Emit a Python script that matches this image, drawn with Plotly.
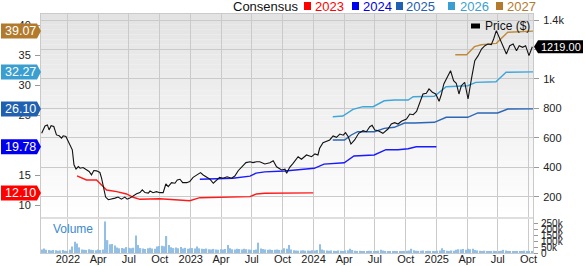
import plotly.graph_objects as go
import pandas as pd

# ---------------- data ----------------
price_dates = ["2021-10-15","2021-10-25","2021-11-01","2021-11-06","2021-11-12","2021-11-20","2021-11-28",
 "2021-12-06","2021-12-13","2021-12-18","2021-12-26","2022-01-02","2022-01-09","2022-01-14","2022-01-19",
 "2022-01-25","2022-02-01","2022-02-06","2022-02-15","2022-02-26","2022-03-05","2022-03-12","2022-03-19",
 "2022-03-27","2022-04-06","2022-04-11","2022-04-16","2022-04-23","2022-05-01","2022-05-11","2022-05-21",
 "2022-05-30","2022-06-09","2022-06-19","2022-06-26","2022-07-04","2022-07-14","2022-07-24","2022-08-03",
 "2022-08-10","2022-08-18","2022-08-28","2022-09-02","2022-09-11","2022-09-21","2022-10-01","2022-10-11",
 "2022-10-19","2022-10-26","2022-11-05","2022-11-15","2022-11-22","2022-11-30","2022-12-08","2022-12-20",
 "2022-12-29","2023-01-08","2023-01-18","2023-01-30","2023-02-07","2023-02-17","2023-02-27","2023-03-09",
 "2023-03-19","2023-03-28","2023-04-07","2023-04-19","2023-05-02","2023-05-12","2023-05-22","2023-06-01",
 "2023-06-14","2023-06-26","2023-07-05","2023-07-15","2023-07-25","2023-08-09","2023-08-24","2023-09-03",
 "2023-09-13","2023-09-28","2023-10-08","2023-10-13","2023-10-22","2023-11-01","2023-11-16","2023-11-26",
 "2023-12-11","2023-12-26","2024-01-05","2024-01-14","2024-01-19","2024-01-29","2024-02-08","2024-02-18",
 "2024-02-28","2024-03-09","2024-03-19","2024-03-29","2024-04-05","2024-04-13","2024-04-21","2024-05-02",
 "2024-05-14","2024-05-27","2024-06-06","2024-06-16","2024-06-23","2024-07-01","2024-07-11","2024-07-25",
 "2024-08-09","2024-08-19","2024-08-29","2024-09-08","2024-09-18","2024-10-03","2024-10-13","2024-10-23",
 "2024-11-02","2024-11-11","2024-11-21","2024-12-01","2024-12-09","2024-12-19","2024-12-29","2025-01-08",
 "2025-01-15","2025-01-22","2025-02-01","2025-02-11","2025-02-20","2025-02-28","2025-03-08","2025-03-15",
 "2025-03-25","2025-04-04","2025-04-14","2025-04-24","2025-05-04","2025-05-14","2025-05-24","2025-06-02",
 "2025-06-12","2025-06-19","2025-06-27","2025-07-05","2025-07-15","2025-07-27","2025-08-06","2025-08-16",
 "2025-08-26","2025-09-03","2025-09-13","2025-09-22","2025-10-02","2025-10-12"]
price_values = [632,681,688,654,683,677,620,
 614,598,614,609,575,541,519,417,
 388,405,394,399,383,372,349,378,
 376,365,327,270,198,180,184,191,
 198,184,198,184,191,207,220,229,
 247,229,225,239,228,235,228,228,
 287,269,296,292,314,319,296,296,
 303,332,348,364,348,332,319,292,
 314,332,326,336,326,341,377,404,
 432,438,432,438,438,423,431,445,
 404,382,387,360,400,427,472,455,
 484,472,491,484,529,567,574,586,
 613,604,626,618,635,608,558,586,
 631,649,642,676,685,654,649,631,
 660,694,703,694,713,728,762,757,
 780,830,898,903,932,910,898,848,
 898,966,1011,1056,988,971,898,954,
 977,864,1000,1124,1158,1203,1226,1237,
 1233,1271,1328,1283,1226,1170,1226,1237,
 1192,1226,1215,1226,1158,1219]

eps_2023_dates = ["2022-01-28","2022-02-25","2022-03-27","2022-04-11","2022-04-26","2022-05-26","2022-06-24",
 "2022-07-14","2022-08-03","2022-10-01","2022-12-29","2023-01-28","2023-05-27","2023-06-26","2023-07-15",
 "2023-08-09","2023-12-31"]
eps_2023 = [14.92,14.25,14.25,13.42,12.58,12.30,11.92,11.37,11.03,11.13,10.80,11.30,11.37,11.47,11.92,12.03,12.10]

eps_2024_dates = ["2023-01-28","2023-05-06","2023-06-26","2023-07-14","2023-08-09","2023-10-07","2024-01-03",
 "2024-02-01","2024-04-01","2024-04-30","2024-06-29","2024-08-03","2024-09-08","2024-10-08","2024-11-01","2024-12-31"]
eps_2024 = [14.37,14.53,14.90,15.40,15.60,15.75,16.20,16.90,17.13,18.25,18.42,19.30,19.30,19.45,19.78,19.78]

eps_2025_dates = ["2024-02-27","2024-04-02","2024-04-22","2024-05-11","2024-06-30","2024-07-29","2024-08-28",
 "2024-09-27","2024-10-27","2024-12-25","2025-01-29","2025-04-03","2025-05-03","2025-07-01","2025-07-31","2025-10-14"]
eps_2025 = [20.92,20.92,21.75,22.30,22.30,22.85,23.03,23.75,23.75,23.87,24.70,24.70,25.42,25.42,26.08,26.10]

eps_2026_dates = ["2024-02-27","2024-03-28","2024-04-27","2024-05-27","2024-06-26","2024-07-16","2024-07-29",
 "2024-08-28","2024-10-08","2024-10-23","2024-12-25","2025-01-29","2025-04-03","2025-04-27","2025-06-26",
 "2025-07-26","2025-10-14"]
eps_2026 = [24.80,24.92,26.03,26.47,26.47,27.03,27.45,27.58,27.58,28.13,28.20,29.80,29.97,30.53,30.63,32.20,32.27]

eps_2027_dates = ["2025-02-25","2025-03-31","2025-04-23","2025-05-13","2025-06-02","2025-06-27","2025-07-31","2025-10-14"]
eps_2027 = [35.13,35.13,36.47,36.80,36.90,37.03,38.87,39.07]

volume_start = "2021-10-15"
volume_k = [30,38,28,25,22,26,24,20,22,26,20,18,
 28,55,96,82,48,30,28,26,32,28,25,24,30,26,
 30,268,110,75,77,65,46,40,42,38,50,44,40,
 45,150,68,42,38,35,40,44,38,36,55,60,62,
 58,145,68,50,42,46,40,52,38,44,36,40,
 42,38,55,40,36,34,38,32,30,35,30,28,32,30,
 34,68,40,32,30,36,34,30,36,32,30,28,26,
 30,88,38,34,30,28,30,26,28,30,26,28,40,
 36,68,30,24,22,20,22,24,20,22,20,24,22,
 26,74,30,24,22,20,22,20,18,22,20,18,22,
 24,36,26,20,18,20,18,16,18,20,18,16,18,
 20,27,22,18,16,18,16,18,16,18,16,18,20,
 22,36,24,20,18,20,22,18,20,18,16,18,20,
 22,41,26,20,18,22,20,28,32,30,34,28,36,
 32,36,26,22,20,18,20,18,16,18,20,18,16,
 20,27,22,18,16,18,16,18,16,18,20,18,16,18]

tick_dates = ["2022-01-01","2022-04-01","2022-07-01","2022-10-01","2023-01-01","2023-04-01","2023-07-01",
 "2023-10-01","2024-01-01","2024-04-01","2024-07-01","2024-10-01","2025-01-01","2025-04-01","2025-07-01","2025-10-01"]
tick_labels = ["2022","Apr","Jul","Oct","2023","Apr","Jul","Oct","2024","Apr","Jul","Oct","2025","Apr","Jul","Oct"]

eps_ticks = [10, 15, 20, 25, 30, 35, 40]
price_ticks = [200, 400, 600, 800, 1000, 1200, 1400]
price_tick_labels = ["200", "400", "600", "800", "1k", "1.2k", "1.4k"]
vol_ticks = [0, 50, 100, 150, 200, 250]
vol_tick_labels = ["0", "50k", "100k", "150k", "200k", "250k"]

series = [
    ("2023", eps_2023_dates, eps_2023, "#ff1a1a", "#ff0000"),
    ("2024", eps_2024_dates, eps_2024, "#1a1aff", "#0000ee"),
    ("2025", eps_2025_dates, eps_2025, "#2b67b4", "#2060b0"),
    ("2026", eps_2026_dates, eps_2026, "#3ea6d8", "#3a9fd0"),
    ("2027", eps_2027_dates, eps_2027, "#c08b3c", "#b27a2c"),
]
last_price_label = "1219.00"
last_price = 1219.0

# ---------------- figure ----------------
W, H = 585, 266
ML, MR, MT, MB = 41, 52, 14, 13
plot_h = H - MT - MB
vol_top_frac = 34 / plot_h
up_bot_frac = 36 / plot_h

FONT = "Liberation Sans, Arial, sans-serif"
GRID = "#cacaca"

fig = go.Figure()

vol_dates = pd.date_range(volume_start, periods=len(volume_k), freq="7D")
fig.add_trace(go.Bar(x=vol_dates, y=volume_k, xaxis="x", yaxis="y3",
                     marker=dict(color="#94bfe4", line=dict(width=0)), showlegend=False))

for name, d, v, lc, fc in series:
    fig.add_trace(go.Scatter(x=d, y=v, mode="lines", xaxis="x2", yaxis="y",
                             line=dict(color=lc, width=1.4), showlegend=False))

fig.add_trace(go.Scatter(x=price_dates, y=price_values, mode="lines", xaxis="x2", yaxis="y2",
                         line=dict(color="#111111", width=1.1), showlegend=False))

xrange = ["2021-10-13", "2025-10-14"]
fig.update_layout(
    width=W, height=H,
    margin=dict(l=ML, r=MR, t=MT, b=MB, pad=0, autoexpand=False),
    paper_bgcolor="white", plot_bgcolor="rgba(0,0,0,0)",
    font=dict(family=FONT, size=11, color="#222"),
    bargap=0.45,
    xaxis=dict(domain=[0, 1], anchor="y3", range=xrange, tickvals=tick_dates, ticktext=tick_labels,
               showgrid=True, gridcolor=GRID, gridwidth=1, showline=True, linecolor=GRID, mirror=True,
               ticks="", tickfont=dict(size=11, color="#222"), ticklabelstandoff=-4, zeroline=False,
               automargin=False),
    xaxis2=dict(domain=[0, 1], anchor="y", matches="x", range=xrange, tickvals=tick_dates,
                showticklabels=False, showgrid=True, gridcolor=GRID, gridwidth=1,
                showline=True, linecolor=GRID, mirror=True, ticks="", zeroline=False, automargin=False),
    yaxis=dict(domain=[up_bot_frac, 1], anchor="x2", side="left", range=[8.08, 41.92],
               tickvals=eps_ticks, showgrid=False, zeroline=False, ticks="outside", ticklen=5,
               tickcolor="#999", showline=True, linecolor=GRID, tickfont=dict(size=11, color="#222"),
               ticklabelstandoff=2, automargin=False),
    yaxis2=dict(overlaying="y", anchor="x2", side="right", range=[62.8, 1441],
                tickvals=price_ticks, ticktext=price_tick_labels, showgrid=True, gridcolor=GRID,
                zeroline=False, ticks="outside", ticklen=5, tickcolor="#999",
                showline=True, linecolor=GRID, tickfont=dict(size=11, color="#222"), ticklabelstandoff=2,
                automargin=False),
    yaxis3=dict(domain=[0, vol_top_frac], anchor="x", side="right", range=[0, 290],
                tickvals=vol_ticks, ticktext=vol_tick_labels, showgrid=False, zeroline=False,
                ticks="outside", ticklen=4, tickcolor="#999", showline=True, linecolor=GRID,
                mirror=True, tickfont=dict(size=10, color="#222"), ticklabelstandoff=1, automargin=False),
)

shapes = []
# gradient background for upper panel
n = 40
for i in range(n):
    y0 = up_bot_frac + (1 - up_bot_frac) * i / n
    y1 = up_bot_frac + (1 - up_bot_frac) * (i + 1) / n
    t = (i + 0.5) / n
    c = int(round(255 - 28 * t))
    shapes.append(dict(type="rect", xref="paper", yref="paper", x0=0, x1=1, y0=y0, y1=y1,
                       fillcolor=f"rgb({c},{c},{c})", line=dict(width=0), layer="below"))
# separator between panels
shapes.append(dict(type="rect", xref="paper", yref="paper", x0=0, x1=1, y0=vol_top_frac, y1=up_bot_frac,
                   fillcolor="#dedede", line=dict(width=0), layer="above"))

annotations = []
# left flags for consensus values
for name, d, v, lc, fc in series:
    shapes.append(dict(type="path", xref="paper", yref="y", xsizemode="pixel", ysizemode="pixel",
                       xanchor=0, yanchor=v[-1],
                       path="M-40,-7.5 L-4,-7.5 L0,0 L-4,7.5 L-40,7.5 Z",
                       fillcolor=fc, line=dict(width=0), layer="above"))
    annotations.append(dict(x=0, xref="paper", xshift=-21, y=v[-1], yref="y", text=f"{v[-1]:.2f}",
                            showarrow=False, xanchor="center", yanchor="middle",
                            font=dict(family=FONT, size=12.5, color="white")))
# right flag for last price
shapes.append(dict(type="path", xref="paper", yref="y2", xsizemode="pixel", ysizemode="pixel",
                   xanchor=1, yanchor=last_price,
                   path="M1,0 L5,-6.5 L50,-6.5 L50,6.5 L5,6.5 Z",
                   fillcolor="#000000", line=dict(width=0), layer="above"))
annotations.append(dict(x=1, xref="paper", xshift=28, y=last_price, yref="y2", text=last_price_label,
                        showarrow=False, xanchor="center", yanchor="middle",
                        font=dict(family=FONT, size=11, color="white")))

def px_x(px):
    return (px - ML) / (W - ML - MR)

def px_y(py):
    return (H - MB - py) / plot_h

# top legend
legend_y = px_y(6.5)
annotations.append(dict(x=px_x(231), y=legend_y, xref="paper", yref="paper", text="Consensus",
                        showarrow=False, xanchor="left", yanchor="middle",
                        font=dict(family=FONT, size=13, color="#111")))
legend_pos = [(304, 313), (352, 361), (396, 404), (448, 458), (496, 505)]
for (sq, tx), (name, d, v, lc, fc) in zip(legend_pos, series):
    shapes.append(dict(type="rect", xref="paper", yref="paper", x0=px_x(sq), x1=px_x(sq + 7),
                       y0=px_y(10), y1=px_y(2), fillcolor=fc, line=dict(width=0)))
    annotations.append(dict(x=px_x(tx), y=legend_y, xref="paper", yref="paper", text=name,
                            showarrow=False, xanchor="left", yanchor="middle",
                            font=dict(family=FONT, size=13, color=fc)))
# price legend
shapes.append(dict(type="rect", xref="paper", yref="paper", x0=px_x(471), x1=px_x(480),
                   y0=px_y(28.5), y1=px_y(23.5), fillcolor="#000", line=dict(width=0)))
annotations.append(dict(x=px_x(483), y=px_y(26), xref="paper", yref="paper", text="Price ($)",
                        showarrow=False, xanchor="left", yanchor="middle",
                        font=dict(family=FONT, size=12, color="#111")))
# volume label
annotations.append(dict(x=px_x(51), y=px_y(228.5), xref="paper", yref="paper", text="Volume",
                        showarrow=False, xanchor="left", yanchor="middle",
                        font=dict(family=FONT, size=12, color="#3a8ad0")))

fig.update_layout(shapes=shapes, annotations=annotations)
fig.write_html("out.html")
